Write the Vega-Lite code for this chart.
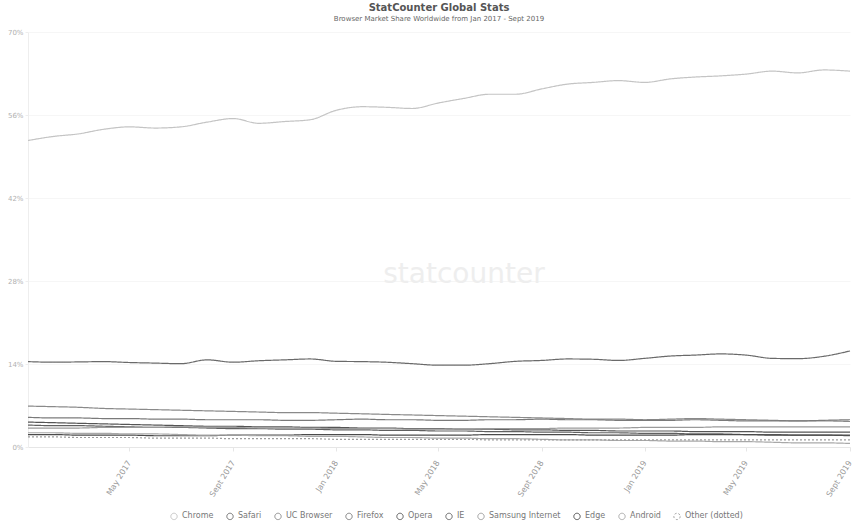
{
  "$schema": "https://vega.github.io/schema/vega-lite/v6.json",
  "width": 822,
  "height": 415,
  "autosize": {"type": "none"},
  "padding": {"left": 28, "top": 32, "right": 6, "bottom": 80},
  "background": "white",
  "config": {"view": {"stroke": null}, "font": "DejaVu Sans"},
  "title": {
    "text": "StatCounter Global Stats",
    "subtitle": "Browser Market Share Worldwide from Jan 2017 - Sept 2019",
    "anchor": "middle",
    "fontSize": 10,
    "fontWeight": "bold",
    "color": "#555555",
    "subtitleFontSize": 7,
    "subtitleColor": "#666666",
    "subtitlePadding": 2,
    "offset": 6
  },
  "datasets": {
    "shares": [
      {"b":"Chrome","d":"2017-01-01","v":51.7},{"b":"Chrome","d":"2017-02-01","v":52.4},{"b":"Chrome","d":"2017-03-01","v":52.8},{"b":"Chrome","d":"2017-04-01","v":53.6},{"b":"Chrome","d":"2017-05-01","v":54.0},{"b":"Chrome","d":"2017-06-01","v":53.8},{"b":"Chrome","d":"2017-07-01","v":54.0},{"b":"Chrome","d":"2017-08-01","v":54.8},{"b":"Chrome","d":"2017-09-01","v":55.4},{"b":"Chrome","d":"2017-10-01","v":54.6},{"b":"Chrome","d":"2017-11-01","v":54.9},{"b":"Chrome","d":"2017-12-01","v":55.2},
      {"b":"Chrome","d":"2018-01-01","v":56.8},{"b":"Chrome","d":"2018-02-01","v":57.4},{"b":"Chrome","d":"2018-03-01","v":57.3},{"b":"Chrome","d":"2018-04-01","v":57.1},{"b":"Chrome","d":"2018-05-01","v":58.0},{"b":"Chrome","d":"2018-06-01","v":58.8},{"b":"Chrome","d":"2018-07-01","v":59.5},{"b":"Chrome","d":"2018-08-01","v":59.5},{"b":"Chrome","d":"2018-09-01","v":60.4},{"b":"Chrome","d":"2018-10-01","v":61.2},{"b":"Chrome","d":"2018-11-01","v":61.5},{"b":"Chrome","d":"2018-12-01","v":61.8},
      {"b":"Chrome","d":"2019-01-01","v":61.5},{"b":"Chrome","d":"2019-02-01","v":62.1},{"b":"Chrome","d":"2019-03-01","v":62.4},{"b":"Chrome","d":"2019-04-01","v":62.6},{"b":"Chrome","d":"2019-05-01","v":62.9},{"b":"Chrome","d":"2019-06-01","v":63.4},{"b":"Chrome","d":"2019-07-01","v":63.1},{"b":"Chrome","d":"2019-08-01","v":63.6},{"b":"Chrome","d":"2019-09-01","v":63.4},

      {"b":"Safari","d":"2017-01-01","v":14.4},{"b":"Safari","d":"2017-02-01","v":14.3},{"b":"Safari","d":"2017-03-01","v":14.35},{"b":"Safari","d":"2017-04-01","v":14.4},{"b":"Safari","d":"2017-05-01","v":14.25},{"b":"Safari","d":"2017-06-01","v":14.15},{"b":"Safari","d":"2017-07-01","v":14.05},{"b":"Safari","d":"2017-08-01","v":14.7},{"b":"Safari","d":"2017-09-01","v":14.3},{"b":"Safari","d":"2017-10-01","v":14.55},{"b":"Safari","d":"2017-11-01","v":14.7},{"b":"Safari","d":"2017-12-01","v":14.85},
      {"b":"Safari","d":"2018-01-01","v":14.45},{"b":"Safari","d":"2018-02-01","v":14.4},{"b":"Safari","d":"2018-03-01","v":14.3},{"b":"Safari","d":"2018-04-01","v":14.05},{"b":"Safari","d":"2018-05-01","v":13.8},{"b":"Safari","d":"2018-06-01","v":13.8},{"b":"Safari","d":"2018-07-01","v":14.05},{"b":"Safari","d":"2018-08-01","v":14.45},{"b":"Safari","d":"2018-09-01","v":14.6},{"b":"Safari","d":"2018-10-01","v":14.85},{"b":"Safari","d":"2018-11-01","v":14.8},{"b":"Safari","d":"2018-12-01","v":14.6},
      {"b":"Safari","d":"2019-01-01","v":14.95},{"b":"Safari","d":"2019-02-01","v":15.35},{"b":"Safari","d":"2019-03-01","v":15.5},{"b":"Safari","d":"2019-04-01","v":15.7},{"b":"Safari","d":"2019-05-01","v":15.5},{"b":"Safari","d":"2019-06-01","v":14.95},{"b":"Safari","d":"2019-07-01","v":14.9},{"b":"Safari","d":"2019-08-01","v":15.3},{"b":"Safari","d":"2019-09-01","v":16.2},

      {"b":"UC Browser","d":"2017-01-01","v":6.9},{"b":"UC Browser","d":"2017-02-01","v":6.8},{"b":"UC Browser","d":"2017-03-01","v":6.7},{"b":"UC Browser","d":"2017-04-01","v":6.5},{"b":"UC Browser","d":"2017-05-01","v":6.4},{"b":"UC Browser","d":"2017-06-01","v":6.3},{"b":"UC Browser","d":"2017-07-01","v":6.2},{"b":"UC Browser","d":"2017-08-01","v":6.1},{"b":"UC Browser","d":"2017-09-01","v":6.0},{"b":"UC Browser","d":"2017-10-01","v":5.9},{"b":"UC Browser","d":"2017-11-01","v":5.8},{"b":"UC Browser","d":"2017-12-01","v":5.8},
      {"b":"UC Browser","d":"2018-01-01","v":5.7},{"b":"UC Browser","d":"2018-02-01","v":5.6},{"b":"UC Browser","d":"2018-03-01","v":5.5},{"b":"UC Browser","d":"2018-04-01","v":5.4},{"b":"UC Browser","d":"2018-05-01","v":5.3},{"b":"UC Browser","d":"2018-06-01","v":5.2},{"b":"UC Browser","d":"2018-07-01","v":5.1},{"b":"UC Browser","d":"2018-08-01","v":5.0},{"b":"UC Browser","d":"2018-09-01","v":4.9},{"b":"UC Browser","d":"2018-10-01","v":4.8},{"b":"UC Browser","d":"2018-11-01","v":4.7},{"b":"UC Browser","d":"2018-12-01","v":4.7},
      {"b":"UC Browser","d":"2019-01-01","v":4.6},{"b":"UC Browser","d":"2019-02-01","v":4.7},{"b":"UC Browser","d":"2019-03-01","v":4.8},{"b":"UC Browser","d":"2019-04-01","v":4.7},{"b":"UC Browser","d":"2019-05-01","v":4.6},{"b":"UC Browser","d":"2019-06-01","v":4.5},{"b":"UC Browser","d":"2019-07-01","v":4.4},{"b":"UC Browser","d":"2019-08-01","v":4.4},{"b":"UC Browser","d":"2019-09-01","v":4.3},

      {"b":"Firefox","d":"2017-01-01","v":5.0},{"b":"Firefox","d":"2017-02-01","v":4.9},{"b":"Firefox","d":"2017-03-01","v":4.9},{"b":"Firefox","d":"2017-04-01","v":4.8},{"b":"Firefox","d":"2017-05-01","v":4.8},{"b":"Firefox","d":"2017-06-01","v":4.7},{"b":"Firefox","d":"2017-07-01","v":4.7},{"b":"Firefox","d":"2017-08-01","v":4.6},{"b":"Firefox","d":"2017-09-01","v":4.6},{"b":"Firefox","d":"2017-10-01","v":4.6},{"b":"Firefox","d":"2017-11-01","v":4.5},{"b":"Firefox","d":"2017-12-01","v":4.5},
      {"b":"Firefox","d":"2018-01-01","v":4.6},{"b":"Firefox","d":"2018-02-01","v":4.7},{"b":"Firefox","d":"2018-03-01","v":4.6},{"b":"Firefox","d":"2018-04-01","v":4.6},{"b":"Firefox","d":"2018-05-01","v":4.5},{"b":"Firefox","d":"2018-06-01","v":4.5},{"b":"Firefox","d":"2018-07-01","v":4.6},{"b":"Firefox","d":"2018-08-01","v":4.6},{"b":"Firefox","d":"2018-09-01","v":4.7},{"b":"Firefox","d":"2018-10-01","v":4.6},{"b":"Firefox","d":"2018-11-01","v":4.6},{"b":"Firefox","d":"2018-12-01","v":4.5},
      {"b":"Firefox","d":"2019-01-01","v":4.5},{"b":"Firefox","d":"2019-02-01","v":4.5},{"b":"Firefox","d":"2019-03-01","v":4.6},{"b":"Firefox","d":"2019-04-01","v":4.5},{"b":"Firefox","d":"2019-05-01","v":4.4},{"b":"Firefox","d":"2019-06-01","v":4.4},{"b":"Firefox","d":"2019-07-01","v":4.4},{"b":"Firefox","d":"2019-08-01","v":4.5},{"b":"Firefox","d":"2019-09-01","v":4.6},

      {"b":"Opera","d":"2017-01-01","v":4.2},{"b":"Opera","d":"2017-02-01","v":4.1},{"b":"Opera","d":"2017-03-01","v":4.0},{"b":"Opera","d":"2017-04-01","v":3.9},{"b":"Opera","d":"2017-05-01","v":3.8},{"b":"Opera","d":"2017-06-01","v":3.7},{"b":"Opera","d":"2017-07-01","v":3.6},{"b":"Opera","d":"2017-08-01","v":3.5},{"b":"Opera","d":"2017-09-01","v":3.5},{"b":"Opera","d":"2017-10-01","v":3.4},{"b":"Opera","d":"2017-11-01","v":3.4},{"b":"Opera","d":"2017-12-01","v":3.3},
      {"b":"Opera","d":"2018-01-01","v":3.3},{"b":"Opera","d":"2018-02-01","v":3.2},{"b":"Opera","d":"2018-03-01","v":3.2},{"b":"Opera","d":"2018-04-01","v":3.1},{"b":"Opera","d":"2018-05-01","v":3.1},{"b":"Opera","d":"2018-06-01","v":3.0},{"b":"Opera","d":"2018-07-01","v":3.0},{"b":"Opera","d":"2018-08-01","v":2.9},{"b":"Opera","d":"2018-09-01","v":2.9},{"b":"Opera","d":"2018-10-01","v":2.8},{"b":"Opera","d":"2018-11-01","v":2.8},{"b":"Opera","d":"2018-12-01","v":2.7},
      {"b":"Opera","d":"2019-01-01","v":2.7},{"b":"Opera","d":"2019-02-01","v":2.7},{"b":"Opera","d":"2019-03-01","v":2.6},{"b":"Opera","d":"2019-04-01","v":2.6},{"b":"Opera","d":"2019-05-01","v":2.6},{"b":"Opera","d":"2019-06-01","v":2.5},{"b":"Opera","d":"2019-07-01","v":2.5},{"b":"Opera","d":"2019-08-01","v":2.5},{"b":"Opera","d":"2019-09-01","v":2.5},

      {"b":"IE","d":"2017-01-01","v":3.7},{"b":"IE","d":"2017-02-01","v":3.6},{"b":"IE","d":"2017-03-01","v":3.6},{"b":"IE","d":"2017-04-01","v":3.5},{"b":"IE","d":"2017-05-01","v":3.4},{"b":"IE","d":"2017-06-01","v":3.3},{"b":"IE","d":"2017-07-01","v":3.3},{"b":"IE","d":"2017-08-01","v":3.2},{"b":"IE","d":"2017-09-01","v":3.1},{"b":"IE","d":"2017-10-01","v":3.1},{"b":"IE","d":"2017-11-01","v":3.0},{"b":"IE","d":"2017-12-01","v":3.0},
      {"b":"IE","d":"2018-01-01","v":2.9},{"b":"IE","d":"2018-02-01","v":2.9},{"b":"IE","d":"2018-03-01","v":2.8},{"b":"IE","d":"2018-04-01","v":2.8},{"b":"IE","d":"2018-05-01","v":2.7},{"b":"IE","d":"2018-06-01","v":2.7},{"b":"IE","d":"2018-07-01","v":2.6},{"b":"IE","d":"2018-08-01","v":2.6},{"b":"IE","d":"2018-09-01","v":2.5},{"b":"IE","d":"2018-10-01","v":2.5},{"b":"IE","d":"2018-11-01","v":2.4},{"b":"IE","d":"2018-12-01","v":2.4},
      {"b":"IE","d":"2019-01-01","v":2.3},{"b":"IE","d":"2019-02-01","v":2.3},{"b":"IE","d":"2019-03-01","v":2.2},{"b":"IE","d":"2019-04-01","v":2.2},{"b":"IE","d":"2019-05-01","v":2.1},{"b":"IE","d":"2019-06-01","v":2.1},{"b":"IE","d":"2019-07-01","v":2.0},{"b":"IE","d":"2019-08-01","v":2.0},{"b":"IE","d":"2019-09-01","v":1.9},

      {"b":"Samsung Internet","d":"2017-01-01","v":3.2},{"b":"Samsung Internet","d":"2017-02-01","v":3.2},{"b":"Samsung Internet","d":"2017-03-01","v":3.2},{"b":"Samsung Internet","d":"2017-04-01","v":3.3},{"b":"Samsung Internet","d":"2017-05-01","v":3.3},{"b":"Samsung Internet","d":"2017-06-01","v":3.3},{"b":"Samsung Internet","d":"2017-07-01","v":3.4},{"b":"Samsung Internet","d":"2017-08-01","v":3.3},{"b":"Samsung Internet","d":"2017-09-01","v":3.3},{"b":"Samsung Internet","d":"2017-10-01","v":3.2},{"b":"Samsung Internet","d":"2017-11-01","v":3.2},{"b":"Samsung Internet","d":"2017-12-01","v":3.2},
      {"b":"Samsung Internet","d":"2018-01-01","v":3.1},{"b":"Samsung Internet","d":"2018-02-01","v":3.1},{"b":"Samsung Internet","d":"2018-03-01","v":3.1},{"b":"Samsung Internet","d":"2018-04-01","v":3.0},{"b":"Samsung Internet","d":"2018-05-01","v":3.0},{"b":"Samsung Internet","d":"2018-06-01","v":3.0},{"b":"Samsung Internet","d":"2018-07-01","v":3.1},{"b":"Samsung Internet","d":"2018-08-01","v":3.1},{"b":"Samsung Internet","d":"2018-09-01","v":3.1},{"b":"Samsung Internet","d":"2018-10-01","v":3.2},{"b":"Samsung Internet","d":"2018-11-01","v":3.2},{"b":"Samsung Internet","d":"2018-12-01","v":3.2},
      {"b":"Samsung Internet","d":"2019-01-01","v":3.3},{"b":"Samsung Internet","d":"2019-02-01","v":3.3},{"b":"Samsung Internet","d":"2019-03-01","v":3.3},{"b":"Samsung Internet","d":"2019-04-01","v":3.4},{"b":"Samsung Internet","d":"2019-05-01","v":3.4},{"b":"Samsung Internet","d":"2019-06-01","v":3.4},{"b":"Samsung Internet","d":"2019-07-01","v":3.4},{"b":"Samsung Internet","d":"2019-08-01","v":3.4},{"b":"Samsung Internet","d":"2019-09-01","v":3.4},

      {"b":"Edge","d":"2017-01-01","v":2.1},{"b":"Edge","d":"2017-02-01","v":2.1},{"b":"Edge","d":"2017-03-01","v":2.0},{"b":"Edge","d":"2017-04-01","v":2.0},{"b":"Edge","d":"2017-05-01","v":2.0},{"b":"Edge","d":"2017-06-01","v":1.9},{"b":"Edge","d":"2017-07-01","v":1.9},{"b":"Edge","d":"2017-08-01","v":1.9},{"b":"Edge","d":"2017-09-01","v":2.0},{"b":"Edge","d":"2017-10-01","v":2.0},{"b":"Edge","d":"2017-11-01","v":2.0},{"b":"Edge","d":"2017-12-01","v":2.1},
      {"b":"Edge","d":"2018-01-01","v":2.1},{"b":"Edge","d":"2018-02-01","v":2.1},{"b":"Edge","d":"2018-03-01","v":2.0},{"b":"Edge","d":"2018-04-01","v":2.0},{"b":"Edge","d":"2018-05-01","v":2.0},{"b":"Edge","d":"2018-06-01","v":2.0},{"b":"Edge","d":"2018-07-01","v":2.1},{"b":"Edge","d":"2018-08-01","v":2.1},{"b":"Edge","d":"2018-09-01","v":2.1},{"b":"Edge","d":"2018-10-01","v":2.1},{"b":"Edge","d":"2018-11-01","v":2.0},{"b":"Edge","d":"2018-12-01","v":2.0},
      {"b":"Edge","d":"2019-01-01","v":2.0},{"b":"Edge","d":"2019-02-01","v":2.0},{"b":"Edge","d":"2019-03-01","v":2.1},{"b":"Edge","d":"2019-04-01","v":2.1},{"b":"Edge","d":"2019-05-01","v":2.1},{"b":"Edge","d":"2019-06-01","v":2.0},{"b":"Edge","d":"2019-07-01","v":2.0},{"b":"Edge","d":"2019-08-01","v":2.0},{"b":"Edge","d":"2019-09-01","v":2.0},

      {"b":"Android","d":"2017-01-01","v":2.4},{"b":"Android","d":"2017-02-01","v":2.4},{"b":"Android","d":"2017-03-01","v":2.3},{"b":"Android","d":"2017-04-01","v":2.3},{"b":"Android","d":"2017-05-01","v":2.2},{"b":"Android","d":"2017-06-01","v":2.2},{"b":"Android","d":"2017-07-01","v":2.1},{"b":"Android","d":"2017-08-01","v":2.0},{"b":"Android","d":"2017-09-01","v":2.0},{"b":"Android","d":"2017-10-01","v":1.9},{"b":"Android","d":"2017-11-01","v":1.9},{"b":"Android","d":"2017-12-01","v":1.8},
      {"b":"Android","d":"2018-01-01","v":1.8},{"b":"Android","d":"2018-02-01","v":1.7},{"b":"Android","d":"2018-03-01","v":1.6},{"b":"Android","d":"2018-04-01","v":1.6},{"b":"Android","d":"2018-05-01","v":1.5},{"b":"Android","d":"2018-06-01","v":1.5},{"b":"Android","d":"2018-07-01","v":1.4},{"b":"Android","d":"2018-08-01","v":1.4},{"b":"Android","d":"2018-09-01","v":1.3},{"b":"Android","d":"2018-10-01","v":1.2},{"b":"Android","d":"2018-11-01","v":1.2},{"b":"Android","d":"2018-12-01","v":1.1},
      {"b":"Android","d":"2019-01-01","v":1.1},{"b":"Android","d":"2019-02-01","v":1.0},{"b":"Android","d":"2019-03-01","v":1.0},{"b":"Android","d":"2019-04-01","v":0.9},{"b":"Android","d":"2019-05-01","v":0.9},{"b":"Android","d":"2019-06-01","v":0.8},{"b":"Android","d":"2019-07-01","v":0.7},{"b":"Android","d":"2019-08-01","v":0.7},{"b":"Android","d":"2019-09-01","v":0.6},

      {"b":"Other (dotted)","d":"2017-01-01","v":1.7},{"b":"Other (dotted)","d":"2017-02-01","v":1.7},{"b":"Other (dotted)","d":"2017-03-01","v":1.6},{"b":"Other (dotted)","d":"2017-04-01","v":1.6},{"b":"Other (dotted)","d":"2017-05-01","v":1.6},{"b":"Other (dotted)","d":"2017-06-01","v":1.5},{"b":"Other (dotted)","d":"2017-07-01","v":1.5},{"b":"Other (dotted)","d":"2017-08-01","v":1.5},{"b":"Other (dotted)","d":"2017-09-01","v":1.4},{"b":"Other (dotted)","d":"2017-10-01","v":1.4},{"b":"Other (dotted)","d":"2017-11-01","v":1.4},{"b":"Other (dotted)","d":"2017-12-01","v":1.4},
      {"b":"Other (dotted)","d":"2018-01-01","v":1.3},{"b":"Other (dotted)","d":"2018-02-01","v":1.3},{"b":"Other (dotted)","d":"2018-03-01","v":1.3},{"b":"Other (dotted)","d":"2018-04-01","v":1.3},{"b":"Other (dotted)","d":"2018-05-01","v":1.3},{"b":"Other (dotted)","d":"2018-06-01","v":1.3},{"b":"Other (dotted)","d":"2018-07-01","v":1.2},{"b":"Other (dotted)","d":"2018-08-01","v":1.2},{"b":"Other (dotted)","d":"2018-09-01","v":1.2},{"b":"Other (dotted)","d":"2018-10-01","v":1.2},{"b":"Other (dotted)","d":"2018-11-01","v":1.2},{"b":"Other (dotted)","d":"2018-12-01","v":1.2},
      {"b":"Other (dotted)","d":"2019-01-01","v":1.2},{"b":"Other (dotted)","d":"2019-02-01","v":1.2},{"b":"Other (dotted)","d":"2019-03-01","v":1.2},{"b":"Other (dotted)","d":"2019-04-01","v":1.2},{"b":"Other (dotted)","d":"2019-05-01","v":1.2},{"b":"Other (dotted)","d":"2019-06-01","v":1.2},{"b":"Other (dotted)","d":"2019-07-01","v":1.2},{"b":"Other (dotted)","d":"2019-08-01","v":1.2},{"b":"Other (dotted)","d":"2019-09-01","v":1.2}
    ],
    "mark": [{"d": "2018-06-01", "v": 29, "t": "statcounter"}]
  },
  "layer": [
    {
      "data": {"name": "mark"},
      "mark": {"type": "text", "fontSize": 28, "color": "#eeeeee", "font": "DejaVu Sans", "align": "center", "baseline": "middle"},
      "encoding": {
        "x": {"field": "d", "type": "temporal", "scale": {"type": "utc"}},
        "y": {"field": "v", "type": "quantitative"},
        "text": {"field": "t"}
      }
    },
    {
      "data": {"name": "shares"},
      "mark": {"type": "line", "strokeWidth": 1.2, "interpolate": "monotone"},
      "encoding": {
        "x": {
          "field": "d", "type": "temporal", "title": null,
          "scale": {"type": "utc", "domain": ["2017-01-01", "2019-09-01"], "nice": false},
          "axis": {
            "values": ["2017-05-01", "2017-09-01", "2018-01-01", "2018-05-01", "2018-09-01", "2019-01-01", "2019-05-01", "2019-09-01"],
            "labelExpr": "utcFormat(datum.value, '%m') == '09' ? 'Sept ' + utcFormat(datum.value, '%Y') : utcFormat(datum.value, '%b %Y')",
            "labelAngle": -58,
            "labelFontSize": 8,
            "labelColor": "#999999",
            "labelPadding": 10,
            "grid": false,
            "domainColor": "#e6e6e6",
            "tickColor": "#e6e6e6",
            "tickSize": 4
          }
        },
        "y": {
          "field": "v", "type": "quantitative", "title": null,
          "scale": {"domain": [0, 70], "nice": false},
          "axis": {
            "values": [0, 14, 28, 42, 56, 70],
            "labelExpr": "datum.value + '%'",
            "labelFontSize": 7,
            "labelColor": "#b0b0b0",
            "grid": true,
            "gridColor": "#f6f6f6",
            "domainColor": "#eeeeee",
            "tickColor": "#eeeeee",
            "tickSize": 3,
            "labelPadding": 2
          }
        },
        "color": {
          "field": "b", "type": "nominal", "title": null,
          "scale": {
            "domain": ["Chrome", "Safari", "UC Browser", "Firefox", "Opera", "IE", "Samsung Internet", "Edge", "Android", "Other (dotted)"],
            "range": ["#c4c4c4", "#6a6a6a", "#8a8a8a", "#7a7a7a", "#555555", "#606060", "#9a9a9a", "#4a4a4a", "#a8a8a8", "#9c9c9c"]
          },
          "legend": {
            "orient": "none",
            "legendX": 142,
            "legendY": 480,
            "direction": "horizontal",
            "columns": 10,
            "symbolType": "circle",
            "symbolFillColor": "white",
            "symbolStrokeWidth": 1,
            "symbolSize": 40,
            "labelFontSize": 8,
            "labelColor": "#777777",
            "columnPadding": 10
          }
        },
        "strokeDash": {
          "field": "b", "type": "nominal", "legend": null,
          "scale": {
            "domain": ["Chrome", "Safari", "UC Browser", "Firefox", "Opera", "IE", "Samsung Internet", "Edge", "Android", "Other (dotted)"],
            "range": [[1, 0], [1, 0], [1, 0], [1, 0], [1, 0], [1, 0], [1, 0], [1, 0], [1, 0], [2, 2]]
          }
        }
      }
    }
  ]
}
